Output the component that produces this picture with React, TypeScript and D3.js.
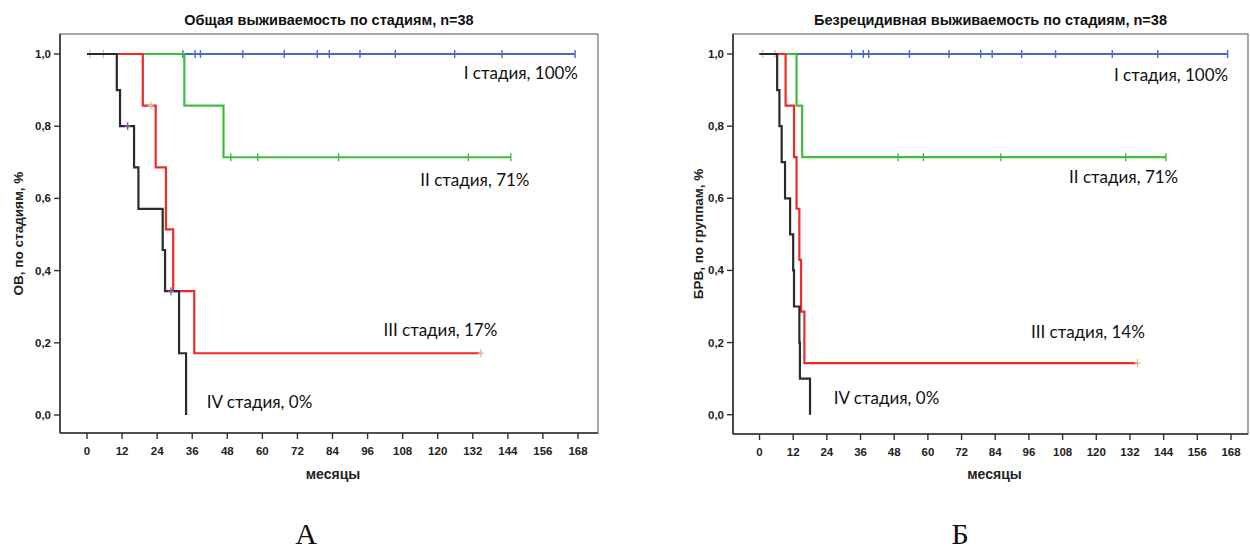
import React from "react";
import * as d3 from "d3";

// ---------- shared axis data ----------
const xTickValues = [0, 12, 24, 36, 48, 60, 72, 84, 96, 108, 120, 132, 144, 156, 168];
const yTickValues = [0, 0.2, 0.4, 0.6, 0.8, 1.0];
const xAxisLabel = "месяцы";
const stageLabelsA = ["I стадия, 100%", "II стадия, 71%", "III стадия, 17%", "IV стадия, 0%"];
const stageLabelsB = ["I стадия, 100%", "II стадия, 71%", "III стадия, 14%", "IV стадия, 0%"];

// ---------- Panel A: overall survival ----------
const titleA = "Общая выживаемость по стадиям, n=38";
const yLabelA = "ОВ, по стадиям, %";
const osI_eventT: number[] = [];
const osI_eventS: number[] = [];
const osI_censor = [32.8, 37, 38.8, 53.3, 67.5, 78.8, 82.9, 93.4, 105.5, 125.8, 142, 167];
const osII_eventT = [33.3, 46.7];
const osII_eventS = [0.857, 0.714];
const osII_censor = [49.2, 58.4, 86.1, 130.5, 145];
const osIII_eventT = [19.1, 23.5, 27.0, 29.5, 36.7];
const osIII_eventS = [0.857, 0.686, 0.514, 0.343, 0.171];
const osIII_censor = [1.0, 5.6, 21.8, 134.8];
const osIV_eventT = [10.2, 11.3, 16.1, 17.6, 25.9, 26.7, 31.5, 33.9];
const osIV_eventS = [0.9, 0.8, 0.686, 0.571, 0.457, 0.343, 0.171, 0];
const osIV_censor = [13.9, 28.7];

// ---------- Panel B: relapse-free survival ----------
const titleB = "Безрецидивная выживаемость по стадиям, n=38";
const yLabelB = "БРВ, по группам, %";
const rfsI_eventT: number[] = [];
const rfsI_eventS: number[] = [];
const rfsI_censor = [32.8, 37, 38.9, 53.4, 67.5, 78.8, 82.9, 93.4, 105.5, 125.7, 141.9, 166.8];
const rfsII_eventT = [13.2, 15.2];
const rfsII_eventS = [0.857, 0.714];
const rfsII_censor = [49.4, 58.4, 86.0, 130.5, 144.8];
const rfsIII_eventT = [9.3, 12.3, 13.2, 14.2, 14.8, 16.0];
const rfsIII_eventS = [0.857, 0.714, 0.571, 0.429, 0.286, 0.143];
const rfsIII_censor = [1.1, 5.5, 134.7];
const rfsIV_eventT = [6.3, 7.1, 7.9, 9.1, 10.9, 12.0, 12.3, 14.2, 14.4, 18.0];
const rfsIV_eventS = [0.9, 0.8, 0.7, 0.6, 0.5, 0.4, 0.3, 0.2, 0.1, 0];
const rfsIV_censor: number[] = [];

// ---------- styles ----------
const lineColors = ["#4a68c8", "#3cbf3c", "#ee2a2a", "#2b2b2b"];
const censorColors = ["#4a68c8", "#3cbf3c", "#d6c49a", "#9b4fb0"];
const SANS = "'Liberation Sans', Arial, sans-serif";
const LABEL_FONT = "Lato, 'Open Sans', sans-serif";

type Group = { t: number[]; s: number[]; c: number[] };

function buildSteps(g: Group): [number, number][] {
  const pts: [number, number][] = [[0, 1]];
  let cur = 1;
  g.t.forEach((t, i) => {
    pts.push([t, cur]);
    cur = g.s[i];
    pts.push([t, cur]);
  });
  const lastT = Math.max(g.t.length ? g.t[g.t.length - 1] : 0, g.c.length ? d3.max(g.c)! : 0);
  if (lastT > pts[pts.length - 1][0]) pts.push([lastT, cur]);
  return pts;
}

function survAt(g: Group, time: number): number {
  let cur = 1;
  g.t.forEach((t, i) => {
    if (t <= time) cur = g.s[i];
  });
  return cur;
}

type PanelProps = {
  title: string;
  yLabel: string;
  groups: Group[];
  labels: string[];
  labelPos: { m: number; v: number; anchor: "start" | "end" }[];
  frame: { l: number; r: number; t: number; b: number };
  xRange: [number, number];
  yRange: [number, number];
  yLabelX: number;
};

function Panel(p: PanelProps) {
  const x = d3.scaleLinear().domain([0, 168]).range(p.xRange);
  const y = d3.scaleLinear().domain([0, 1]).range(p.yRange);
  const line = d3
    .line<[number, number]>()
    .x((d) => x(d[0]))
    .y((d) => y(d[1]));
  const { l, r, t, b } = p.frame;
  const cx = (l + r) / 2;
  const cy = (t + b) / 2;
  return (
    <g>
      <text x={cx} y={25} textAnchor="middle" fontFamily={SANS} fontWeight="bold" fontSize={14.5} fill="#111">
        {p.title}
      </text>
      <rect x={l} y={t} width={r - l} height={b - t} fill="none" stroke="#7a7a7a" strokeWidth={1.3} />
      <line x1={l} x2={l} y1={t} y2={b} stroke="#333" strokeWidth={1.6} />
      <line x1={l} x2={r} y1={b} y2={b} stroke="#333" strokeWidth={1.6} />
      {yTickValues.map((v) => (
        <g key={"y" + v}>
          <line x1={l - 6} x2={l} y1={y(v)} y2={y(v)} stroke="#333" strokeWidth={1.4} />
          <text
            x={l - 9}
            y={y(v)}
            dy="0.35em"
            textAnchor="end"
            fontFamily={SANS}
            fontWeight="bold"
            fontSize={11.5}
            fill="#222"
          >
            {d3.format(".1f")(v).replace(".", ",")}
          </text>
        </g>
      ))}
      {xTickValues.map((v) => (
        <g key={"x" + v}>
          <line x1={x(v)} x2={x(v)} y1={b} y2={b + 6} stroke="#333" strokeWidth={1.4} />
          <text x={x(v)} y={b + 18} dy="0.35em" textAnchor="middle" fontFamily={SANS} fontWeight="bold" fontSize={11.5} fill="#222">
            {v}
          </text>
        </g>
      ))}
      <text x={cx + 4} y={474} dy="0.35em" textAnchor="middle" fontFamily={SANS} fontWeight="bold" fontSize={14} fill="#222">
        {xAxisLabel}
      </text>
      <text
        transform={`translate(${p.yLabelX},${cy}) rotate(-90)`}
        dy="0.35em"
        textAnchor="middle"
        fontFamily={SANS}
        fontWeight="bold"
        fontSize={13.5}
        fill="#222"
      >
        {p.yLabel}
      </text>
      {p.groups.map((g, i) => (
        <g key={"g" + i}>
          <path d={line(buildSteps(g)) || ""} fill="none" stroke={lineColors[i]} strokeWidth={2.2} />
          {g.c.map((c, j) => {
            const cxp = x(c);
            const cyp = y(survAt(g, c));
            return (
              <g key={j}>
                <line x1={cxp} x2={cxp} y1={cyp - 4} y2={cyp + 4} stroke={censorColors[i]} strokeWidth={1.4} />
                {i >= 2 && (
                  <line x1={cxp - 3} x2={cxp + 3} y1={cyp} y2={cyp} stroke={censorColors[i]} strokeWidth={1.4} />
                )}
              </g>
            );
          })}
        </g>
      ))}
      {p.labels.map((s, i) => (
        <text
          key={"l" + i}
          x={x(p.labelPos[i].m)}
          y={y(p.labelPos[i].v)}
          dy="0.35em"
          textAnchor={p.labelPos[i].anchor}
          fontFamily={LABEL_FONT}
          fontSize={17}
          fill="#111"
        >
          {s}
        </text>
      ))}
    </g>
  );
}

export default function App() {
  const groupsA: Group[] = [
    { t: osI_eventT, s: osI_eventS, c: osI_censor },
    { t: osII_eventT, s: osII_eventS, c: osII_censor },
    { t: osIII_eventT, s: osIII_eventS, c: osIII_censor },
    { t: osIV_eventT, s: osIV_eventS, c: osIV_censor },
  ];
  const groupsB: Group[] = [
    { t: rfsI_eventT, s: rfsI_eventS, c: rfsI_censor },
    { t: rfsII_eventT, s: rfsII_eventS, c: rfsII_censor },
    { t: rfsIII_eventT, s: rfsIII_eventS, c: rfsIII_censor },
    { t: rfsIV_eventT, s: rfsIV_eventS, c: rfsIV_censor },
  ];
  return (
    <svg
      width={1250}
      height={551}
      style={{ position: "absolute", left: 0, top: 0, background: "#fff" }}
    >
      <rect x={0} y={0} width={1250} height={551} fill="#fff" />
      <Panel
        title={titleA}
        yLabel={yLabelA}
        groups={groupsA}
        labels={stageLabelsA}
        labelPos={[
          { m: 168, v: 0.947, anchor: "end" },
          { m: 151.4, v: 0.651, anchor: "end" },
          { m: 140.4, v: 0.235, anchor: "end" },
          { m: 41, v: 0.037, anchor: "start" },
        ]}
        frame={{ l: 60, r: 598, t: 34, b: 433 }}
        xRange={[87, 578]}
        yRange={[415, 54]}
        yLabelX={18}
      />
      <Panel
        title={titleB}
        yLabel={yLabelB}
        groups={groupsB}
        labels={stageLabelsB}
        labelPos={[
          { m: 167, v: 0.942, anchor: "end" },
          { m: 149.2, v: 0.66, anchor: "end" },
          { m: 137.3, v: 0.23, anchor: "end" },
          { m: 26.5, v: 0.045, anchor: "start" },
        ]}
        frame={{ l: 733, r: 1248, t: 34, b: 434 }}
        xRange={[759.5, 1231]}
        yRange={[414.7, 54]}
        yLabelX={698}
      />
      <text x={306} y={544} textAnchor="middle" fontFamily="'Liberation Serif', 'Times New Roman', serif" fontSize={30} fill="#111">
        А
      </text>
      <text x={960} y={544} textAnchor="middle" fontFamily="'Liberation Serif', 'Times New Roman', serif" fontSize={30} fill="#111">
        Б
      </text>
    </svg>
  );
}
